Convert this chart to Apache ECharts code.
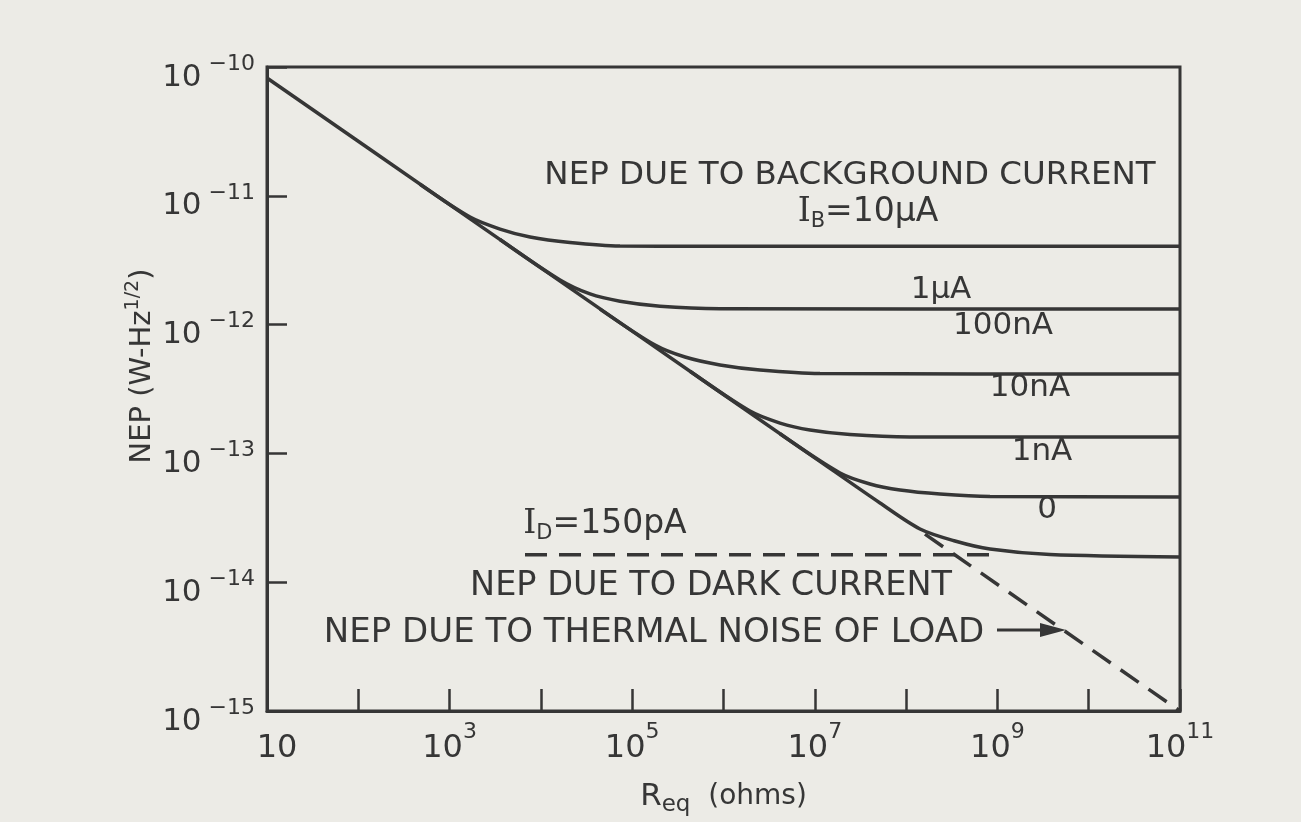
<!DOCTYPE html>
<html>
<head>
<meta charset="utf-8">
<title>NEP vs Req</title>
<script src="https://cdn.jsdelivr.net/npm/echarts@6/dist/echarts.min.js"></script>
<style>
  html, body { margin: 0; padding: 0; background: #ecebe6; }
  #chart { width: 1301px; height: 822px; }
</style>
</head>
<body>
<div id="chart"></div>
<script>
// values: [R_eq (ohms), NEP (W-Hz^1/2)]
var nepZero = [[10, 8.21e-11], [1e3, 8.54e-12], [1e5, 8.89e-13], [1e7, 9.24e-14], [5.18e7, 4.12e-14],
    [1.42e8, 2.59e-14], [3.43e8, 2.09e-14], [8.3e8, 1.81e-14], [3.77e9, 1.64e-14], [1e11, 1.57e-14]];
var nep1nA = [[4.16e6, 1.42e-13], [1.89e7, 7.04e-14], [4.02e7, 5.79e-14], [8.58e7, 5.2e-14],
    [2.35e8, 4.84e-14], [8.3e8, 4.63e-14], [1e11, 4.59e-14]];
var nep10nA = [[4.3e5, 4.34e-13], [1.95e6, 2.13e-13], [4.16e6, 1.72e-13], [8.86e6, 1.52e-13],
    [2.43e7, 1.4e-13], [1.1e8, 1.34e-13], [1e11, 1.34e-13]];
var nep100nA = [[4.44e4, 1.32e-12], [1.78e5, 6.94e-13], [3.79e5, 5.6e-13], [9.16e5, 4.86e-13],
    [2.51e6, 4.44e-13], [1.14e7, 4.17e-13], [1e11, 4.13e-13]];
var nep1uA = [[3565, 4.58e-12], [1.62e4, 2.22e-12], [3.45e4, 1.73e-12], [7.35e4, 1.52e-12],
    [2.02e5, 1.39e-12], [9.16e5, 1.33e-12], [1e11, 1.32e-12]];
var nep10uA = [[474, 1.23e-11], [1673, 6.84e-12], [3565, 5.52e-12], [7600, 4.79e-12],
    [2.08e4, 4.34e-12], [7.35e4, 4.07e-12], [5.53e5, 4.05e-12], [1e11, 4.05e-12]];
var nepThermal = [[1.61e8, 2.36e-14], [1e11, 1e-15]];
var nepDark = [[6700, 1.63e-14], [1.07e9, 1.63e-14]];

var xLabelExp = [1, 3, 5, 7, 9, 11];

var ink = '#363636';
var font = 'DejaVu Sans';

function curve(data) {
    return {
        type: 'line',
        data: data,
        showSymbol: false,
        smooth: 0.3,
        lineStyle: { color: ink, width: 3.5 },
        silent: true
    };
}

function dashed(data) {
    return {
        type: 'line',
        data: data,
        showSymbol: false,
        lineStyle: { color: ink, width: 3.5, type: [22, 12] },
        silent: true
    };
}

function label(text, x, y, size, rich) {
    return {
        type: 'text',
        x: x,
        y: y,
        style: {
            text: text,
            fill: ink,
            font: size + 'px "' + font + '"',
            align: 'center',
            verticalAlign: 'middle',
            textAlign: 'center',
            textVerticalAlign: 'middle',
            rich: rich
        }
    };
}

var subRich = {
    i: { fontSize: 33, fontFamily: 'DejaVu Serif', lineHeight: 40, color: ink },
    s: { fontSize: 21, fontFamily: font, lineHeight: 18, verticalAlign: 'bottom', color: ink },
    t: { fontSize: 33, fontFamily: font, lineHeight: 40, color: ink }
};

var chart = echarts.init(document.getElementById('chart'));
var op = {
    animation: false,
    backgroundColor: '#ecebe6',
    textStyle: { fontFamily: font, color: ink },
    grid: {
        left: 267,
        top: 67,
        width: 913,
        height: 644,
        show: true,
        borderColor: ink,
        borderWidth: 3,
        backgroundColor: 'transparent'
    },
    xAxis: {
        type: 'log',
        logBase: 10,
        min: 10,
        max: 1e11,
        interval: 1,
        axisLine: { lineStyle: { color: ink, width: 3 } },
        axisTick: { inside: true, length: 22, lineStyle: { color: ink, width: 2.5 } },
        splitLine: { show: false },
        axisLabel: {
            margin: 10,
            formatter: function (v) {
                var e = Math.round(Math.log10(v));
                if (xLabelExp.indexOf(e) < 0) return '';
                if (e === 1) return '{c|10}';
                return '{b|10}{s|' + e + '}';
            },
            rich: {
                c: { fontSize: 32, lineHeight: 44, verticalAlign: 'bottom', padding: [0, 0, 0, 20], color: ink },
                b: { fontSize: 32, lineHeight: 44, verticalAlign: 'bottom', color: ink },
                s: { fontSize: 22, lineHeight: 24, verticalAlign: 'top', color: ink }
            }
        },
        name: '{r|R}{s|eq}{n|  (ohms)}',
        nameLocation: 'middle',
        nameGap: 66,
        nameTextStyle: {
            rich: {
                r: { fontSize: 31, lineHeight: 40, color: ink },
                s: { fontSize: 23, lineHeight: 18, verticalAlign: 'bottom', color: ink },
                n: { fontSize: 28, lineHeight: 40, color: ink }
            }
        }
    },
    yAxis: {
        type: 'log',
        logBase: 10,
        min: 1e-15,
        max: 1e-10,
        interval: 1,
        axisLine: { lineStyle: { color: ink, width: 3 } },
        axisTick: { inside: true, length: 20, lineStyle: { color: ink, width: 2.5 } },
        splitLine: { show: false },
        axisLabel: {
            margin: 12,
            padding: [12, 0, 0, 0],
            formatter: function (v) {
                var e = Math.round(Math.log10(v));
                return '{b|10}{s| \u2212' + (-e) + '}';
            },
            rich: {
                b: { fontSize: 31, lineHeight: 40, verticalAlign: 'bottom', color: ink },
                s: { fontSize: 22, lineHeight: 24, verticalAlign: 'top', color: ink }
            }
        }
    },
    series: [
        curve(nepZero),
        curve(nep1nA),
        curve(nep10nA),
        curve(nep100nA),
        curve(nep1uA),
        curve(nep10uA),
        dashed(nepThermal),
        dashed(nepDark)
    ],
    graphic: [
        label('NEP DUE TO BACKGROUND CURRENT', 850, 176, 32.5),
        label('{i|I}{s|B}{t|=10\u00b5A}', 868, 212, 33, subRich),
        label('1\u00b5A', 941, 290, 31),
        label('100nA', 1003, 326, 31),
        label('10nA', 1030, 388, 31),
        label('1nA', 1042, 452, 31),
        label('0', 1047, 510, 31),
        label('{i|I}{s|D}{t|=150pA}', 605, 524, 33, subRich),
        label('NEP DUE TO DARK CURRENT', 711, 586, 33.5),
        label('NEP DUE TO THERMAL NOISE OF LOAD', 654, 633, 34),
        {
            type: 'line',
            shape: { x1: 997, y1: 630, x2: 1045, y2: 630 },
            style: { stroke: ink, lineWidth: 3 }
        },
        {
            type: 'polygon',
            shape: { points: [[1040, 623], [1066, 630], [1040, 637]] },
            style: { fill: ink }
        },
        {
            type: 'text',
            x: 142,
            y: 366,
            rotation: Math.PI / 2,
            style: {
                text: '{t|NEP (W-Hz}{s|1/2}{t|)}',
                align: 'center',
                verticalAlign: 'middle',
                textAlign: 'center',
                textVerticalAlign: 'middle',
                fill: ink,
                rich: {
                    t: { fontSize: 29, fontFamily: font, lineHeight: 36, color: ink },
                    s: { fontSize: 19, fontFamily: font, lineHeight: 14, verticalAlign: 'top', color: ink }
                }
            }
        }
    ]
};
chart.setOption(op);
</script>
</body>
</html>
